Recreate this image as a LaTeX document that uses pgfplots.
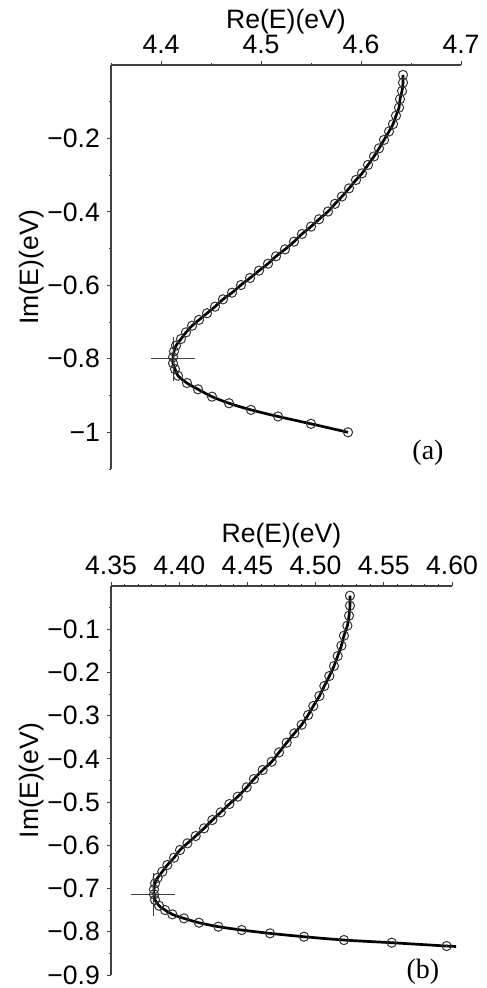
\documentclass[border=0pt]{standalone}
\usepackage{fontspec}
\setmainfont{Liberation Sans}
\newfontfamily\seriffont{Liberation Serif}
\usepackage{pgfplots}
\pgfplotsset{compat=1.18}

\pgfplotsset{
  every non boxed x axis/.append style={x axis line style={-}, xtick align=outside},
  every non boxed y axis/.append style={y axis line style={-}, ytick align=outside},
  panel/.style={
    scale only axis,
    axis x line=top, axis y line=left,
    axis line style={black!75, line width=0.6pt},
    major tick length=2pt, minor tick length=1.1pt,
    every tick/.style={black!75, line width=0.5pt},
    tick label style={font=\fontsize{13.3}{16}\selectfont},
    label style={font=\fontsize{13.3}{16}\selectfont},
    xlabel={Re(E)(eV)}, ylabel={Im(E)(eV)},
    ylabel shift=-5pt,
    clip=false,
  },
  curve/.style={black, line width=1.35pt, mark=o, mark size=2.3pt,
    mark options={black!80, line width=0.5pt, solid}},
  cross/.style={black!75, line width=0.55pt},
}

\begin{document}
\begin{tikzpicture}
\useasboundingbox (0,0) rectangle (243pt,-494pt);

% (a)
\begin{axis}[panel, at={(55.5pt,-32.5pt)}, anchor=north west,
  width=175pt, height=202pt, xlabel shift=-6.5pt,
  xmin=4.35, xmax=4.7, ymin=-1.1, ymax=0,
  xtick={4.4,4.5,4.6,4.7}, xticklabels={4.4,4.5,4.6,4.7},
  minor xtick={4.35,4.45,4.55,4.65},
  ytick={-1,-0.8,-0.6,-0.4,-0.2}, yticklabels={−1,−0.8,−0.6,−0.4,−0.2},
  minor ytick={-1.1,-0.9,-0.7,-0.5,-0.3,-0.1}]
\addplot[curve, smooth] coordinates {
(4.642,-0.027) (4.642,-0.048) (4.641,-0.071) (4.639,-0.093) (4.638,-0.116)
(4.635,-0.138) (4.632,-0.161) (4.628,-0.181) (4.623,-0.204) (4.618,-0.227)
(4.613,-0.249) (4.607,-0.272) (4.601,-0.295) (4.595,-0.313) (4.588,-0.336)
(4.581,-0.358) (4.574,-0.378) (4.567,-0.399) (4.558,-0.420) (4.550,-0.440)
(4.541,-0.460) (4.533,-0.481) (4.524,-0.502) (4.515,-0.521) (4.507,-0.541)
(4.498,-0.560) (4.489,-0.580) (4.480,-0.599) (4.471,-0.620) (4.462,-0.638)
(4.454,-0.658) (4.446,-0.676) (4.438,-0.694) (4.431,-0.710) (4.425,-0.728)
(4.420,-0.746) (4.415,-0.764) (4.413,-0.780) (4.412,-0.796) (4.412,-0.812)
(4.414,-0.828) (4.417,-0.846) (4.426,-0.866) (4.437,-0.883) (4.451,-0.903)
(4.468,-0.921) (4.490,-0.939) (4.517,-0.957) (4.550,-0.977) (4.587,-1.000)
};
\addplot[cross] coordinates {(4.390,-0.8) (4.434,-0.8)};
\addplot[cross, line width=0.45pt] coordinates {(4.412,-0.86) (4.412,-0.74)};
\node[font=\seriffont\fontsize{14}{16}\selectfont] at (axis cs:4.667,-1.055) {(a)};
\end{axis}

% (b)
\begin{axis}[panel, at={(55.5pt,-293pt)}, anchor=north west,
  width=170.5pt, height=194.5pt, xlabel shift=-3pt,
  xmin=4.35, xmax=4.60, ymin=-0.9, ymax=0,
  xtick={4.35,4.40,4.45,4.50,4.55,4.60},
  xticklabels={4.35,4.40,4.45,4.50,4.55,4.60},
  minor xtick={4.36,4.37,4.38,4.39,4.41,4.42,4.43,4.44,4.46,4.47,4.48,4.49,
    4.51,4.52,4.53,4.54,4.56,4.57,4.58,4.59},
  ytick={-0.9,-0.8,-0.7,-0.6,-0.5,-0.4,-0.3,-0.2,-0.1},
  yticklabels={−0.9,−0.8,−0.7,−0.6,−0.5,−0.4,−0.3,−0.2,−0.1},
  minor ytick={-0.85,-0.75,-0.65,-0.55,-0.45,-0.35,-0.25,-0.15,-0.05}]
\addplot[curve, smooth] coordinates {
(4.5252,-0.0224) (4.5252,-0.0455) (4.5245,-0.0686) (4.5233,-0.0918) (4.5208,-0.1149)
(4.5189,-0.1381) (4.5162,-0.1620) (4.5135,-0.1851) (4.5101,-0.2082) (4.5064,-0.2314)
(4.5028,-0.2545) (4.4983,-0.2777) (4.4945,-0.2985) (4.4898,-0.3209) (4.4844,-0.3409)
(4.4788,-0.3625) (4.4732,-0.3849) (4.4678,-0.4065) (4.4612,-0.4257) (4.4548,-0.4466)
(4.4495,-0.4658) (4.4429,-0.4874) (4.4368,-0.5044) (4.4304,-0.5237) (4.4243,-0.5414)
(4.4182,-0.5607) (4.4121,-0.5784) (4.4060,-0.5954) (4.4006,-0.6108) (4.3962,-0.6286)
(4.3913,-0.6455) (4.3876,-0.6610) (4.3842,-0.6749) (4.3823,-0.6880) (4.3815,-0.7018)
(4.3815,-0.7134) (4.3823,-0.7265) (4.3852,-0.7396) (4.3896,-0.7497) (4.3950,-0.7597)
(4.4035,-0.7690) (4.4145,-0.7790) (4.4287,-0.7882) (4.4458,-0.7959) (4.4666,-0.8037)
(4.4915,-0.8114) (4.5208,-0.8191) (4.5558,-0.8253) (4.5961,-0.8330)
};
\addplot[black, line width=1.35pt] coordinates {(4.5961,-0.8330) (4.6030,-0.8340)};
\addplot[cross] coordinates {(4.3647,-0.7134) (4.3969,-0.7134)};
\addplot[cross, line width=0.45pt] coordinates {(4.3810,-0.7640) (4.3810,-0.6630)};
\node[font=\seriffont\fontsize{14}{16}\selectfont] at (axis cs:4.5787,-0.893) {(b)};
\end{axis}
\end{tikzpicture}
\end{document}
